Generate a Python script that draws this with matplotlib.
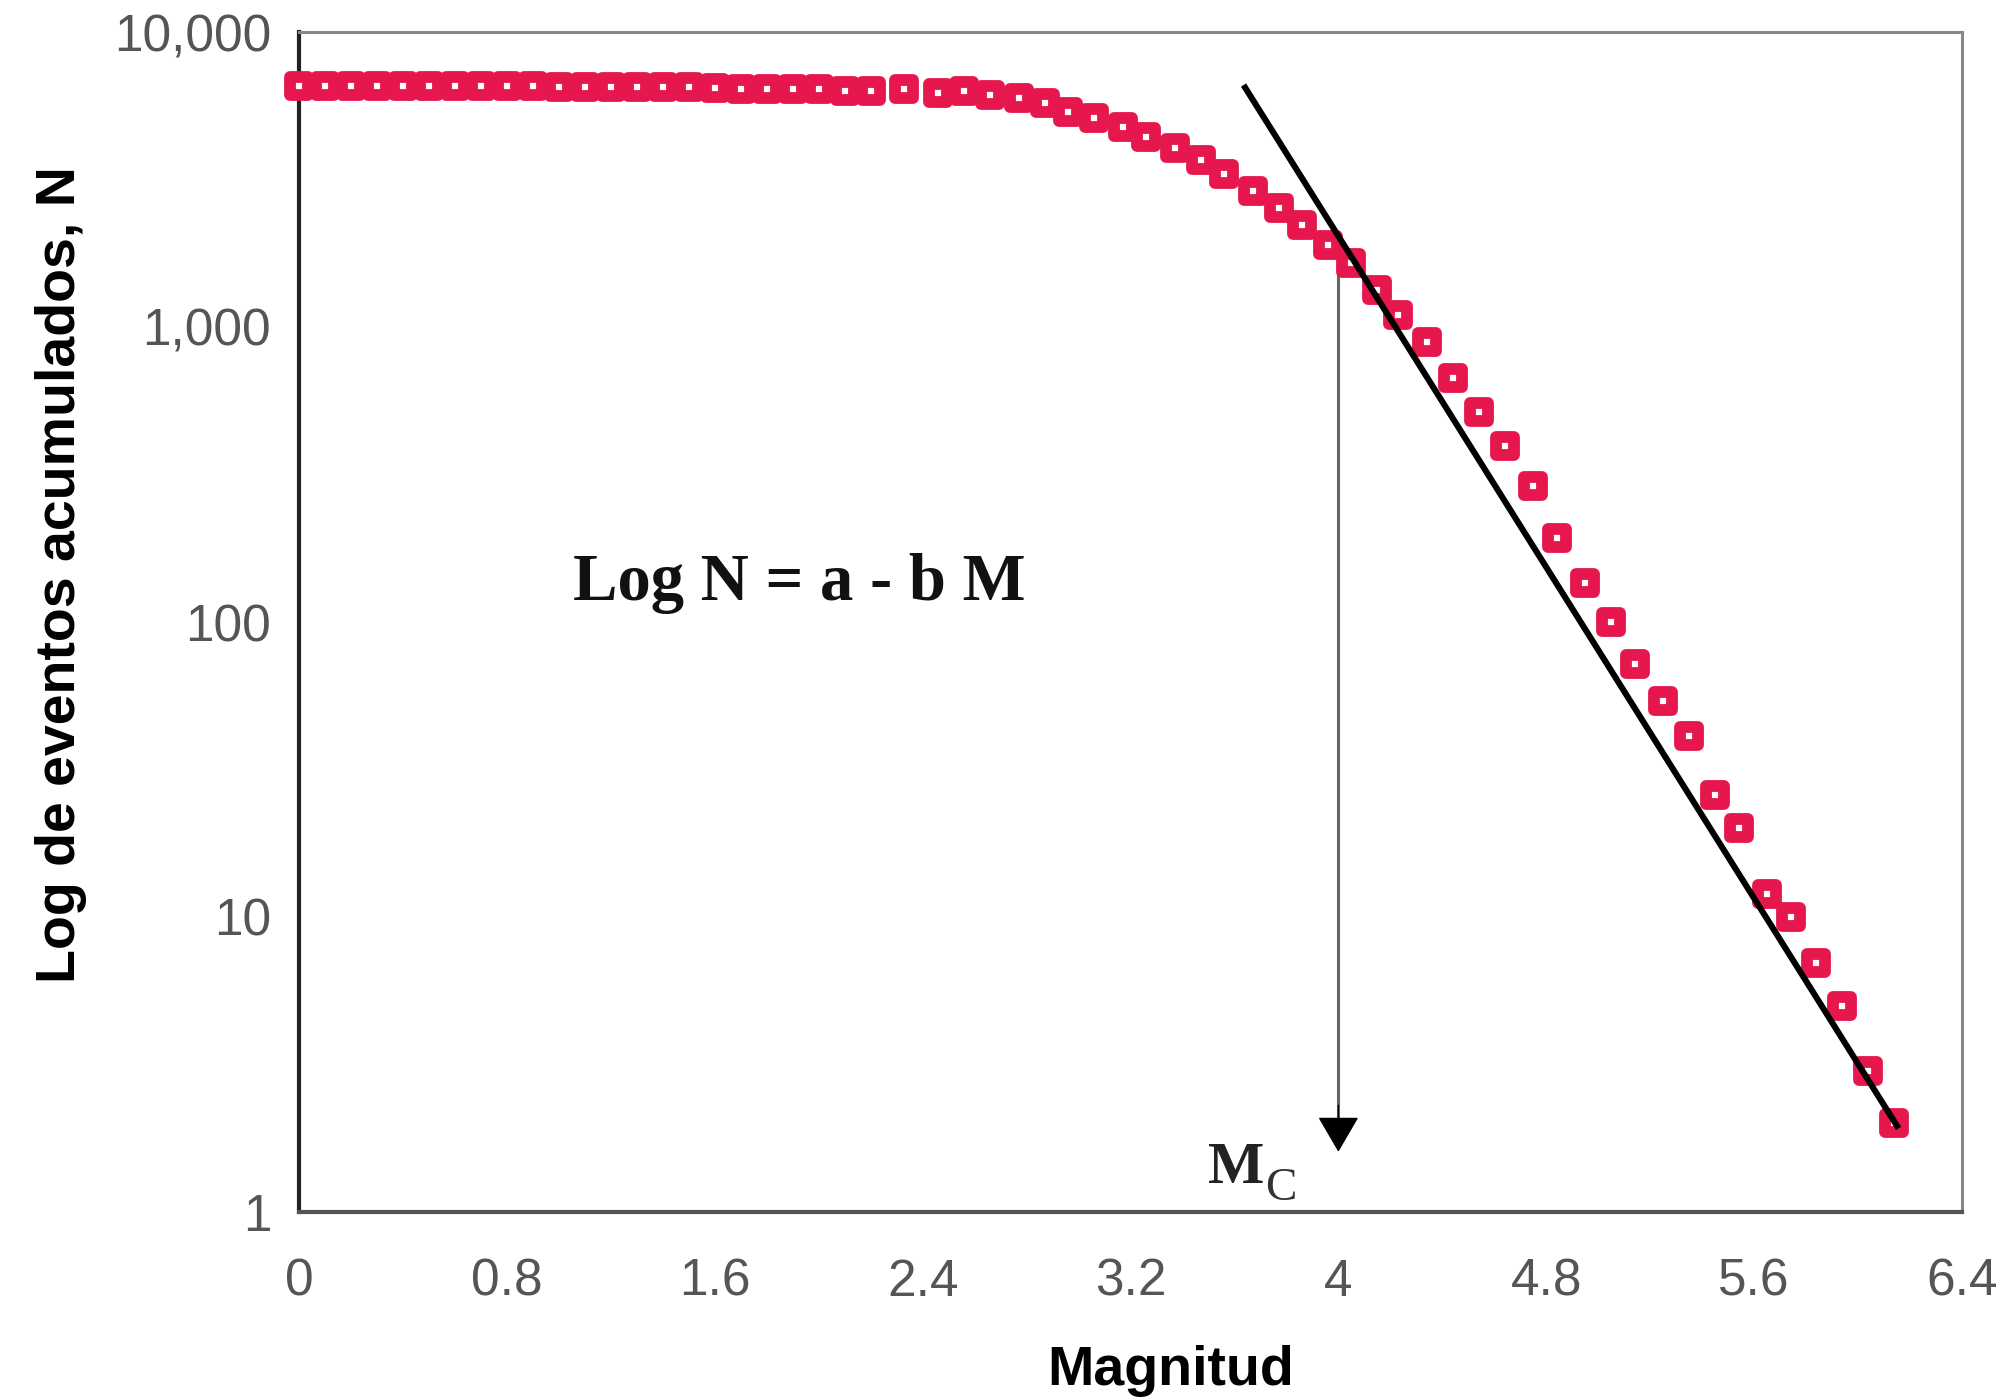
import matplotlib
matplotlib.use("Agg")
import matplotlib.pyplot as plt
from matplotlib.markers import MarkerStyle
from matplotlib.ticker import FixedLocator, NullLocator

# magnitude bins and cumulative number of events
magnitudes = [0.0, 0.1, 0.2, 0.3, 0.4, 0.5, 0.6, 0.7, 0.8, 0.9, 1.0, 1.1, 1.2, 1.3, 1.4, 1.5,
              1.6, 1.7, 1.8, 1.9, 2.0, 2.1, 2.2, 2.33, 2.46, 2.56, 2.66, 2.77, 2.87, 2.96,
              3.06, 3.17, 3.26, 3.37, 3.47, 3.56, 3.67, 3.77, 3.86, 3.96, 4.05, 4.15, 4.23,
              4.34, 4.44, 4.54, 4.64, 4.75, 4.84, 4.95, 5.05, 5.14, 5.25, 5.35, 5.45, 5.54,
              5.65, 5.74, 5.84, 5.94, 6.04, 6.14]
counts = [6560, 6560, 6555, 6555, 6550, 6550, 6548, 6545, 6540, 6538, 6535, 6530, 6525, 6520, 6515, 6510,
          6480, 6420, 6410, 6400, 6395, 6330, 6320, 6410, 6230, 6320, 6110, 5955, 5730, 5370,
          5120, 4775, 4400, 4030, 3680, 3310, 2880, 2525, 2220, 1900, 1645, 1335, 1100,
          890, 670, 516, 395, 290, 192, 136, 100, 72, 54, 41, 26, 20,
          12, 10, 7, 5, 3, 2]

# straight Gutenberg-Richter fit drawn on the chart (end points)
fit_mag = [3.635, 6.156]
fit_n = [6610, 1.92]

# magnitude of completeness
mc = 4.0
mc_top = 1850
mc_tip = 1.6

x_ticks = [0, 0.8, 1.6, 2.4, 3.2, 4.0, 4.8, 5.6, 6.4]
x_labels = ["0", "0.8", "1.6", "2.4", "3.2", "4", "4.8", "5.6", "6.4"]
y_ticks = [1, 10, 100, 1000, 10000]
y_labels = ["1", "10", "100", "1,000", "10,000"]

red = "#E5174D"

fig = plt.figure(figsize=(20.05, 13.98), dpi=100)
ax = fig.add_axes([299 / 2005, 1 - 1212 / 1398, 1663 / 2005, 1180 / 1398])

ax.plot(magnitudes, counts, linestyle="none",
        marker=MarkerStyle("s", joinstyle="round"), markersize=12.5,
        markeredgewidth=8.5, markeredgecolor=red, markerfacecolor="white",
        clip_on=False, zorder=3)

ax.plot(fit_mag, fit_n, color="black", linewidth=4.4, solid_capstyle="butt", zorder=4)

# Mc arrow: grey stem with black head
ax.plot([mc, mc], [mc_top, 2.12], color="#666666", linewidth=2.2, zorder=2)
ax.annotate("", xy=(mc, mc_tip), xytext=(mc, 2.3),
            arrowprops=dict(arrowstyle="-|>,head_length=1.15,head_width=0.67",
                            color="black", lw=1, shrinkA=0, shrinkB=0,
                            mutation_scale=20))

ax.text(3.50, 1.254, "M", fontsize=43, fontweight="bold", family="Liberation Serif",
        ha="left", va="baseline", color="#222222")
ax.text(3.72, 1.098, "C", fontsize=34, family="Liberation Serif",
        ha="left", va="baseline", color="#333333")

ax.text(1.055, 119, "Log N = a - b M", fontsize=48, fontweight="bold",
        family="Liberation Serif", ha="left", va="baseline", color="#111111")

ax.set_yscale("log")
ax.set_xlim(0, 6.4)
ax.set_ylim(1, 10000)

ax.xaxis.set_major_locator(FixedLocator(x_ticks))
ax.set_xticklabels(x_labels)
ax.yaxis.set_major_locator(FixedLocator(y_ticks))
ax.yaxis.set_minor_locator(NullLocator())
ax.set_yticklabels(y_labels)
ax.tick_params(axis="both", length=0, labelsize=37, labelcolor="#555555")
ax.tick_params(axis="x", pad=33)
ax.tick_params(axis="y", pad=20)
for lab in ax.get_xticklabels() + ax.get_yticklabels():
    lab.set_family("Liberation Sans")

ax.set_xlabel("Magnitud", fontsize=40, fontweight="bold", family="Liberation Sans")
ax.set_ylabel("Log de eventos acumulados, N", fontsize=40, fontweight="bold",
              family="Liberation Sans")
ax.xaxis.set_label_coords(0.524, -0.1127)
ax.yaxis.set_label_coords(-0.1275, 0.54)

ax.spines["left"].set_color("#222222")
ax.spines["left"].set_linewidth(3)
ax.spines["bottom"].set_color("#555555")
ax.spines["bottom"].set_linewidth(3)
ax.spines["top"].set_color("#888888")
ax.spines["top"].set_linewidth(2.2)
ax.spines["right"].set_color("#888888")
ax.spines["right"].set_linewidth(2.2)

fig.savefig("out.png", dpi=100, facecolor="white")
